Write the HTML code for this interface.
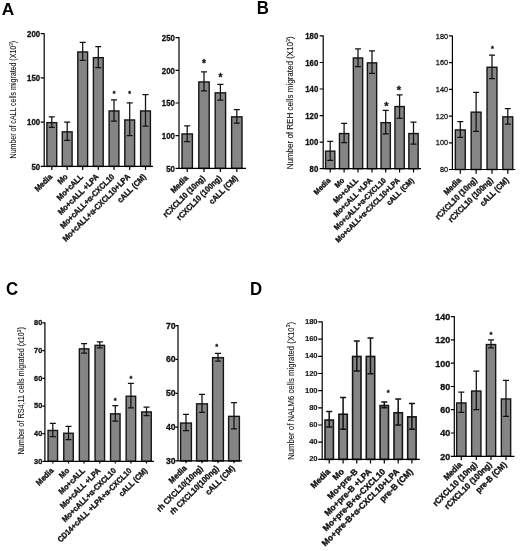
<!DOCTYPE html>
<html lang="en"><head><meta charset="utf-8"><title>Figure</title>
<style>html,body{margin:0;padding:0;background:#fff}svg{display:block;will-change:transform}text{font-family:"Liberation Sans", sans-serif;fill:#111}.b,.l,.s{font-weight:700;stroke:#111;stroke-width:.3px}.m{stroke:#111;stroke-width:.25px}.sb{font-weight:700;stroke:#111;stroke-width:.1px}.l{text-anchor:end;stroke-width:.36px}.y{text-anchor:middle;fill:#111;stroke:#111;stroke-width:.08px}.p{font-weight:700;fill:#000}.s{text-anchor:middle}.bar{fill:#858585;stroke:#151515}.ax{stroke:#000;stroke-width:1.2;fill:none}.er{stroke:#111;fill:none}</style></head><body>
<svg width="520" height="551" viewBox="0 0 520 551">
<rect width="520" height="551" fill="#fff"/>
<text class="p" font-size="16.6" transform="translate(1.7 15) scale(1.04 1)">A</text>
<text class="p" font-size="17.5" transform="translate(256.8 13.8) scale(0.96 1)">B</text>
<text class="p" font-size="17.5" transform="translate(6 294.8) scale(0.96 1)">C</text>
<text class="p" font-size="17.5" transform="translate(250.1 294.7) scale(0.96 1)">D</text>
<g id="A1">
<rect class="bar" stroke-width="1.4" x="46.9" y="122.65" width="9.8" height="43.75"/>
<rect class="bar" stroke-width="1.4" x="62.3" y="131.85" width="9.8" height="34.55"/>
<rect class="bar" stroke-width="1.4" x="77.8" y="51.95" width="9.8" height="114.45"/>
<rect class="bar" stroke-width="1.4" x="93.4" y="57.65" width="9.8" height="108.75"/>
<rect class="bar" stroke-width="1.4" x="109.1" y="110.95" width="9.8" height="55.45"/>
<rect class="bar" stroke-width="1.4" x="124.8" y="119.95" width="9.8" height="46.45"/>
<rect class="bar" stroke-width="1.4" x="140.6" y="110.95" width="9.8" height="55.45"/>
<path class="er" stroke-width="1.25" d="M51.8 116.9V127.3M48.8 116.9H54.8M48.8 127.3H54.8M67.2 122.1V140.3M64.2 122.1H70.2M64.2 140.3H70.2M82.7 42.4V60.4M79.7 42.4H85.7M79.7 60.4H85.7M98.3 46.5V67.7M95.3 46.5H101.3M95.3 67.7H101.3M114 99.8V121M111 99.8H117M111 121H117M129.7 102.8V135.7M126.7 102.8H132.7M126.7 135.7H132.7M145.5 94.6V126.2M142.5 94.6H148.5M142.5 126.2H148.5"/>
<path class="ax" d="M44.2 33.2V166.4H153M40.7 33.7H44.2M40.7 77.9H44.2M40.7 122.1H44.2M40.7 166.4H44.2M51.8 166.4V170.1M67.2 166.4V170.1M82.7 166.4V170.1M98.3 166.4V170.1M114 166.4V170.1M129.7 166.4V170.1M145.5 166.4V170.1"/>
<text class="t b" font-size="8.4" text-anchor="end" transform="translate(40.1 37) scale(0.93 1)">200</text>
<text class="t b" font-size="8.4" text-anchor="end" transform="translate(40.1 81.2) scale(0.93 1)">150</text>
<text class="t b" font-size="8.4" text-anchor="end" transform="translate(40.1 125.4) scale(0.93 1)">100</text>
<text class="t b" font-size="8.4" text-anchor="end" transform="translate(40.1 169.7) scale(0.93 1)">50</text>
<text class="s" font-size="7" x="114" y="96.27">*</text>
<text class="s" font-size="7" x="129.7" y="96.27">*</text>
<text class="l" font-size="8.2" transform="translate(52.8 177.3) rotate(-45) scale(0.9 1)">Media</text>
<text class="l" font-size="8.2" transform="translate(68.2 177.3) rotate(-45) scale(0.9 1)">Mo</text>
<text class="l" font-size="8.2" transform="translate(83.7 177.3) rotate(-45) scale(0.9 1)">Mo+cALL</text>
<text class="l" font-size="8.2" transform="translate(99.3 177.3) rotate(-45) scale(0.9 1)">Mo+cALL +LPA</text>
<text class="l" font-size="8.2" transform="translate(115 177.3) rotate(-45) scale(0.9 1)">Mo+cALL+α-CXCL10</text>
<text class="l" font-size="8.2" transform="translate(130.7 177.3) rotate(-45) scale(0.9 1)">Mo+cALL+α-CXCL10+LPA</text>
<text class="l" font-size="8.2" transform="translate(146.5 177.3) rotate(-45) scale(0.9 1)">cALL (CM)</text>
<text class="y" font-size="8.3" transform="translate(15.7 99.65) rotate(-90) scale(0.8467 1)">Number of cALL cells migrated (X10<tspan font-size="5.4" dy="-3.1">3</tspan><tspan dy="3.1">)</tspan></text>
</g>
<g id="A2">
<rect class="bar" stroke-width="1.4" x="182" y="133.95" width="10.4" height="34.45"/>
<rect class="bar" stroke-width="1.4" x="198.8" y="81.95" width="10.4" height="86.45"/>
<rect class="bar" stroke-width="1.4" x="215.2" y="92.85" width="10.4" height="75.55"/>
<rect class="bar" stroke-width="1.4" x="231.6" y="116.85" width="10.4" height="51.55"/>
<path class="er" stroke-width="1.25" d="M187.2 125.8V141.6M184.2 125.8H190.2M184.2 141.6H190.2M204 71.9V90.9M201 71.9H207M201 90.9H207M220.4 84.4V100.2M217.4 84.4H223.4M217.4 100.2H223.4M236.8 109.5V123.1M233.8 109.5H239.8M233.8 123.1H239.8"/>
<path class="ax" d="M179 37.1V168.4H246M175.5 37.6H179M175.5 70.3H179M175.5 103H179M175.5 135.7H179M175.5 168.4H179M187.2 168.4V172.1M204 168.4V172.1M220.4 168.4V172.1M236.8 168.4V172.1"/>
<text class="t b" font-size="8.4" text-anchor="end" transform="translate(174.9 40.9) scale(0.93 1)">250</text>
<text class="t b" font-size="8.4" text-anchor="end" transform="translate(174.9 73.6) scale(0.93 1)">200</text>
<text class="t b" font-size="8.4" text-anchor="end" transform="translate(174.9 106.3) scale(0.93 1)">150</text>
<text class="t b" font-size="8.4" text-anchor="end" transform="translate(174.9 139) scale(0.93 1)">100</text>
<text class="t b" font-size="8.4" text-anchor="end" transform="translate(174.9 171.7) scale(0.93 1)">50</text>
<text class="s" font-size="10" x="204" y="67.3">*</text>
<text class="s" font-size="10" x="220.4" y="80.8">*</text>
<text class="l" font-size="8.2" transform="translate(188.7 178.7) rotate(-45) scale(0.9 1)">Media</text>
<text class="l" font-size="8.2" transform="translate(205.5 178.7) rotate(-45) scale(0.9 1)">rCXCL10 (10ng)</text>
<text class="l" font-size="8.2" transform="translate(221.9 178.7) rotate(-45) scale(0.9 1)">rCXCL10 (100ng)</text>
<text class="l" font-size="8.2" transform="translate(238.3 178.7) rotate(-45) scale(0.9 1)">cALL (CM)</text>
</g>
<g id="B1">
<rect class="bar" stroke-width="1.4" x="325.55" y="151.15" width="9.3" height="17.55"/>
<rect class="bar" stroke-width="1.4" x="339.45" y="133.55" width="9.3" height="35.15"/>
<rect class="bar" stroke-width="1.4" x="353.35" y="57.95" width="9.3" height="110.75"/>
<rect class="bar" stroke-width="1.4" x="367.35" y="62.85" width="9.3" height="105.85"/>
<rect class="bar" stroke-width="1.4" x="381.05" y="122.65" width="9.3" height="46.05"/>
<rect class="bar" stroke-width="1.4" x="394.95" y="106.55" width="9.3" height="62.15"/>
<rect class="bar" stroke-width="1.4" x="408.85" y="133.55" width="9.3" height="35.15"/>
<path class="er" stroke-width="1.25" d="M330.2 141.4V160.4M327.2 141.4H333.2M327.2 160.4H333.2M344.1 123.4V142.5M341.1 123.4H347.1M341.1 142.5H347.1M358 48.9V66.6M355 48.9H361M355 66.6H361M372 50.8V73.4M369 50.8H375M369 73.4H375M385.7 110.4V133.8M382.7 110.4H388.7M382.7 133.8H388.7M399.6 94.9V118.3M396.6 94.9H402.6M396.6 118.3H402.6M413.5 122.1V144.1M410.5 122.1H416.5M410.5 144.1H416.5"/>
<path class="ax" d="M323.2 35.4V168.7H421M319.7 35.9H323.2M319.7 62.5H323.2M319.7 89H323.2M319.7 115.6H323.2M319.7 142.1H323.2M319.7 168.7H323.2M330.2 168.7V172.4M344.1 168.7V172.4M358 168.7V172.4M372 168.7V172.4M385.7 168.7V172.4M399.6 168.7V172.4M413.5 168.7V172.4"/>
<text class="t b" font-size="8.4" text-anchor="end" transform="translate(318.3 39.2) scale(0.93 1)">180</text>
<text class="t b" font-size="8.4" text-anchor="end" transform="translate(318.3 65.8) scale(0.93 1)">160</text>
<text class="t b" font-size="8.4" text-anchor="end" transform="translate(318.3 92.3) scale(0.93 1)">140</text>
<text class="t b" font-size="8.4" text-anchor="end" transform="translate(318.3 118.9) scale(0.93 1)">120</text>
<text class="t b" font-size="8.4" text-anchor="end" transform="translate(318.3 145.4) scale(0.93 1)">100</text>
<text class="t b" font-size="8.4" text-anchor="end" transform="translate(318.3 172) scale(0.93 1)">80</text>
<text class="s" font-size="11" x="386.3" y="109.71">*</text>
<text class="s" font-size="11" x="398.8" y="94.31">*</text>
<text class="l" font-size="7.6" transform="translate(331 181) rotate(-45) scale(0.93 1)">Media</text>
<text class="l" font-size="7.6" transform="translate(344.9 181) rotate(-45) scale(0.93 1)">Mo</text>
<text class="l" font-size="7.6" transform="translate(358.8 181) rotate(-45) scale(0.93 1)">Mo+cALL</text>
<text class="l" font-size="7.6" transform="translate(372.8 181) rotate(-45) scale(0.93 1)">Mo+cALL +LPA</text>
<text class="l" font-size="7.6" transform="translate(386.5 181) rotate(-45) scale(0.93 1)">Mo+cALL+α-CXCL10</text>
<text class="l" font-size="7.6" transform="translate(400.4 181) rotate(-45) scale(0.93 1)">Mo+cALL+α-CXCL10+LPA</text>
<text class="l" font-size="7.6" transform="translate(414.3 181) rotate(-45) scale(0.93 1)">cALL (CM)</text>
<text class="y" font-size="8.3" transform="translate(293 102.85) rotate(-90) scale(0.9666 1)">Number of REH cells migrated (X10<tspan font-size="5.4" dy="-3.1">3</tspan><tspan dy="3.1">)</tspan></text>
</g>
<g id="B2">
<rect class="bar" stroke-width="1.4" x="455.35" y="129.95" width="9.9" height="39.55"/>
<rect class="bar" stroke-width="1.4" x="471.15" y="112.15" width="9.9" height="57.35"/>
<rect class="bar" stroke-width="1.4" x="487.05" y="67.25" width="9.9" height="102.25"/>
<rect class="bar" stroke-width="1.4" x="502.85" y="116.85" width="9.9" height="52.65"/>
<path class="er" stroke-width="1.25" d="M460.3 121.7V137.3M457.3 121.7H463.3M457.3 137.3H463.3M476.1 92.3V131.3M473.1 92.3H479.1M473.1 131.3H479.1M492 55V78.7M489 55H495M489 78.7H495M507.8 108.7V124.2M504.8 108.7H510.8M504.8 124.2H510.8"/>
<path class="ax" d="M452.4 35.4V169.5H515.4M448.9 35.9H452.4M448.9 62.6H452.4M448.9 89.3H452.4M448.9 116.1H452.4M448.9 142.8H452.4M448.9 169.5H452.4M460.3 169.5V173.8M476.1 169.5V173.8M492 169.5V173.8M507.8 169.5V173.8"/>
<text class="t m" font-size="7.6" text-anchor="end" transform="translate(448 38.5) scale(0.96 1)">180</text>
<text class="t m" font-size="7.6" text-anchor="end" transform="translate(448 65.2) scale(0.96 1)">160</text>
<text class="t m" font-size="7.6" text-anchor="end" transform="translate(448 91.9) scale(0.96 1)">140</text>
<text class="t m" font-size="7.6" text-anchor="end" transform="translate(448 118.7) scale(0.96 1)">120</text>
<text class="t m" font-size="7.6" text-anchor="end" transform="translate(448 145.4) scale(0.96 1)">100</text>
<text class="t m" font-size="7.6" text-anchor="end" transform="translate(448 172.1) scale(0.96 1)">80</text>
<text class="s" font-size="7.5" x="492.4" y="50.98">*</text>
<text class="l" font-size="8.3" transform="translate(461.7 180.8) rotate(-45) scale(0.89 1)">Media</text>
<text class="l" font-size="8.3" transform="translate(477.5 180.8) rotate(-45) scale(0.89 1)">rCXCL10 (10ng)</text>
<text class="l" font-size="8.3" transform="translate(493.4 180.8) rotate(-45) scale(0.89 1)">rCXCL10 (100ng)</text>
<text class="l" font-size="8.3" transform="translate(509.2 180.8) rotate(-45) scale(0.89 1)">cALL (CM)</text>
</g>
<g id="C1">
<rect class="bar" stroke-width="1.4" x="48.05" y="430.45" width="9.5" height="30.85"/>
<rect class="bar" stroke-width="1.4" x="63.75" y="433.25" width="9.5" height="28.05"/>
<rect class="bar" stroke-width="1.4" x="79.35" y="348.85" width="9.5" height="112.45"/>
<rect class="bar" stroke-width="1.4" x="95.05" y="345.35" width="9.5" height="115.95"/>
<rect class="bar" stroke-width="1.4" x="110.55" y="413.85" width="9.5" height="47.45"/>
<rect class="bar" stroke-width="1.4" x="126.15" y="396.25" width="9.5" height="65.05"/>
<rect class="bar" stroke-width="1.4" x="141.75" y="411.95" width="9.5" height="49.35"/>
<path class="er" stroke-width="1.25" d="M52.8 423.4V436.7M49.8 423.4H55.8M49.8 436.7H55.8M68.5 426.4V439.5M65.5 426.4H71.5M65.5 439.5H71.5M84.1 343.7V353M81.1 343.7H87.1M81.1 353H87.1M99.8 341.8V347.8M96.8 341.8H102.8M96.8 347.8H102.8M115.3 405.7V421M112.3 405.7H118.3M112.3 421H118.3M130.9 383.4V407.9M127.9 383.4H133.9M127.9 407.9H133.9M146.5 407.1V415.5M143.5 407.1H149.5M143.5 415.5H149.5"/>
<path class="ax" d="M44.9 322.3V461.3H154M42.4 322.8H44.9M42.4 350.6H44.9M42.4 378.4H44.9M42.4 406.1H44.9M42.4 433.7H44.9M42.4 461.3H44.9M52.8 461.3V463.6M68.5 461.3V463.6M84.1 461.3V463.6M99.8 461.3V463.6M115.3 461.3V463.6M130.9 461.3V463.6M146.5 461.3V463.6"/>
<text class="t b" font-size="7.3" text-anchor="end" transform="translate(42.2 325) scale(1 1)">80</text>
<text class="t b" font-size="7.3" text-anchor="end" transform="translate(42.2 352.8) scale(1 1)">70</text>
<text class="t b" font-size="7.3" text-anchor="end" transform="translate(42.2 380.6) scale(1 1)">60</text>
<text class="t b" font-size="7.3" text-anchor="end" transform="translate(42.2 408.3) scale(1 1)">50</text>
<text class="t b" font-size="7.3" text-anchor="end" transform="translate(42.2 435.9) scale(1 1)">40</text>
<text class="t b" font-size="7.3" text-anchor="end" transform="translate(42.2 463.5) scale(1 1)">30</text>
<text class="s" font-size="7.5" x="115.3" y="403.18">*</text>
<text class="s" font-size="7.5" x="130.9" y="381.18">*</text>
<text class="l" font-size="8" transform="translate(54.1 471.2) rotate(-45) scale(0.92 1)">Media</text>
<text class="l" font-size="8" transform="translate(69.8 471.2) rotate(-45) scale(0.92 1)">Mo</text>
<text class="l" font-size="8" transform="translate(85.4 471.2) rotate(-45) scale(0.92 1)">Mo+cALL</text>
<text class="l" font-size="8" transform="translate(101.1 471.2) rotate(-45) scale(0.92 1)">Mo+cALL +LPA</text>
<text class="l" font-size="8" transform="translate(116.6 471.2) rotate(-45) scale(0.92 1)">Mo+cALL+α-CXCL10</text>
<text class="l" font-size="8" transform="translate(132.2 471.2) rotate(-45) scale(0.92 1)">CD14+cALL +LPA+α-CXCL10</text>
<text class="l" font-size="8" transform="translate(147.8 471.2) rotate(-45) scale(0.92 1)">cALL (CM)</text>
<text class="y" font-size="8.3" transform="translate(24 390.8) rotate(-90) scale(0.8735 1)">Number of RS4;11 cells migrated (x10<tspan font-size="5.4" dy="-3.1">3</tspan><tspan dy="3.1">)</tspan></text>
</g>
<g id="C2">
<rect class="bar" stroke-width="1.4" x="180.6" y="423.05" width="10.8" height="37.85"/>
<rect class="bar" stroke-width="1.4" x="196.6" y="403.85" width="10.8" height="57.05"/>
<rect class="bar" stroke-width="1.4" x="212.6" y="357.65" width="10.8" height="103.25"/>
<rect class="bar" stroke-width="1.4" x="228.6" y="416.35" width="10.8" height="44.55"/>
<path class="er" stroke-width="1.25" d="M186 414.4V430.6M183 414.4H189M183 430.6H189M202 394.3V412.3M199 394.3H205M199 412.3H205M218 353.3V361.2M215 353.3H221M215 361.2H221M234 402.7V428.9M231 402.7H237M231 428.9H237"/>
<path class="ax" d="M178 325.1V460.9H242M175.5 325.6H178M175.5 359.4H178M175.5 393.3H178M175.5 427.1H178M175.5 460.9H178M186 460.9V463.2M202 460.9V463.2M218 460.9V463.2M234 460.9V463.2"/>
<text class="t b" font-size="8.4" text-anchor="end" transform="translate(175.6 328.5) scale(1.03 1)">70</text>
<text class="t b" font-size="8.4" text-anchor="end" transform="translate(175.6 362.3) scale(1.03 1)">60</text>
<text class="t b" font-size="8.4" text-anchor="end" transform="translate(175.6 396.2) scale(1.03 1)">50</text>
<text class="t b" font-size="8.4" text-anchor="end" transform="translate(175.6 430) scale(1.03 1)">40</text>
<text class="t b" font-size="8.4" text-anchor="end" transform="translate(175.6 463.8) scale(1.03 1)">30</text>
<text class="s" font-size="7.5" x="216.8" y="348.88">*</text>
<text class="l" font-size="8.3" transform="translate(187.2 468.9) rotate(-45) scale(0.91 1)">Media</text>
<text class="l" font-size="8.3" transform="translate(203.2 468.9) rotate(-45) scale(0.91 1)">rh CXCL10(10ng)</text>
<text class="l" font-size="8.3" transform="translate(219.2 468.9) rotate(-45) scale(0.91 1)">rh CXCL10(100ng)</text>
<text class="l" font-size="8.3" transform="translate(235.2 468.9) rotate(-45) scale(0.91 1)">cALL (CM)</text>
</g>
<g id="D1">
<rect class="bar" stroke-width="1.6" x="325" y="420.05" width="8.4" height="39.35"/>
<rect class="bar" stroke-width="1.6" x="338.9" y="414.25" width="8.4" height="45.15"/>
<rect class="bar" stroke-width="1.6" x="352.6" y="356.45" width="8.4" height="102.95"/>
<rect class="bar" stroke-width="1.6" x="366.3" y="356.45" width="8.4" height="102.95"/>
<rect class="bar" stroke-width="1.6" x="380.1" y="405.55" width="8.4" height="53.85"/>
<rect class="bar" stroke-width="1.6" x="394" y="412.75" width="8.4" height="46.65"/>
<rect class="bar" stroke-width="1.6" x="407.7" y="416.85" width="8.4" height="42.55"/>
<path class="er" stroke-width="1.5" d="M329.2 411.6V426.9M326.2 411.6H332.2M326.2 426.9H332.2M343.1 397.6V429.3M340.1 397.6H346.1M340.1 429.3H346.1M356.8 341V370.9M353.8 341H359.8M353.8 370.9H359.8M370.5 338.1V373.8M367.5 338.1H373.5M367.5 373.8H373.5M384.3 402V407.8M381.3 402H387.3M381.3 407.8H387.3M398.2 399.1V424.9M395.2 399.1H401.2M395.2 424.9H401.2M411.9 403.4V429.3M408.9 403.4H414.9M408.9 429.3H414.9"/>
<path class="ax" d="M322.2 321.4V459.4H419.8M318.2 321.9H322.2M318.2 339.1H322.2M318.2 356.3H322.2M318.2 373.5H322.2M318.2 390.6H322.2M318.2 407.8H322.2M318.2 425H322.2M318.2 442.2H322.2M318.2 459.4H322.2M329.2 459.4V463.4M343.1 459.4V463.4M356.8 459.4V463.4M370.5 459.4V463.4M384.3 459.4V463.4M398.2 459.4V463.4M411.9 459.4V463.4"/>
<text class="t sb" font-size="7.4" text-anchor="end" transform="translate(317.6 323.9) scale(1.03 1)">180</text>
<text class="t sb" font-size="7.4" text-anchor="end" transform="translate(317.6 341.1) scale(1.03 1)">160</text>
<text class="t sb" font-size="7.4" text-anchor="end" transform="translate(317.6 358.3) scale(1.03 1)">140</text>
<text class="t sb" font-size="7.4" text-anchor="end" transform="translate(317.6 375.5) scale(1.03 1)">120</text>
<text class="t sb" font-size="7.4" text-anchor="end" transform="translate(317.6 392.6) scale(1.03 1)">100</text>
<text class="t sb" font-size="7.4" text-anchor="end" transform="translate(317.6 409.8) scale(1.03 1)">80</text>
<text class="t sb" font-size="7.4" text-anchor="end" transform="translate(317.6 427) scale(1.03 1)">60</text>
<text class="t sb" font-size="7.4" text-anchor="end" transform="translate(317.6 444.2) scale(1.03 1)">40</text>
<text class="t sb" font-size="7.4" text-anchor="end" transform="translate(317.6 461.4) scale(1.03 1)">20</text>
<text class="s" font-size="7.5" x="388.3" y="394.88">*</text>
<text class="l" font-size="8.6" transform="translate(330.8 472.2) rotate(-45) scale(0.98 1)">Media</text>
<text class="l" font-size="8.6" transform="translate(344.7 472.2) rotate(-45) scale(0.98 1)">Mo</text>
<text class="l" font-size="8.6" transform="translate(358.4 472.2) rotate(-45) scale(0.98 1)">Mo+pre-B</text>
<text class="l" font-size="8.6" transform="translate(372.1 472.2) rotate(-45) scale(0.98 1)">Mo+pre-B +LPA</text>
<text class="l" font-size="8.6" transform="translate(385.9 472.2) rotate(-45) scale(0.98 1)">Mo+pre-B+α-CXCL10</text>
<text class="l" font-size="8.6" transform="translate(399.8 472.2) rotate(-45) scale(0.98 1)">Mo+pre-B+α-CXCL10+LPA</text>
<text class="l" font-size="8.6" transform="translate(413.5 472.2) rotate(-45) scale(0.98 1)">pre-B (CM)</text>
<text class="y" font-size="8.3" transform="translate(293.5 390.9) rotate(-90) scale(0.9347 1)">Number of NALM6 cells migrated (X10<tspan font-size="5.4" dy="-3.1">3</tspan><tspan dy="3.1">)</tspan></text>
</g>
<g id="D2">
<rect class="bar" stroke-width="1.4" x="456.65" y="402.95" width="9.3" height="53.35"/>
<rect class="bar" stroke-width="1.4" x="471.65" y="391.05" width="9.3" height="65.25"/>
<rect class="bar" stroke-width="1.4" x="486.35" y="344.55" width="9.3" height="111.75"/>
<rect class="bar" stroke-width="1.4" x="501.35" y="398.95" width="9.3" height="57.35"/>
<path class="er" stroke-width="1.25" d="M461.3 392V412.3M458.3 392H464.3M458.3 412.3H464.3M476.3 371V409.7M473.3 371H479.3M473.3 409.7H479.3M491 339.9V347.8M488 339.9H494M488 347.8H494M506 380.3V416.4M503 380.3H509M503 416.4H509"/>
<path class="ax" d="M454.3 316.1V456.3H514.5M450.8 316.6H454.3M450.8 339.9H454.3M450.8 363.2H454.3M450.8 386.5H454.3M450.8 409.7H454.3M450.8 433H454.3M450.8 456.3H454.3M461.3 456.3V460M476.3 456.3V460M491 456.3V460M506 456.3V460"/>
<text class="t b" font-size="8.2" text-anchor="end" transform="translate(450.2 319.9) scale(1.1 1)">140</text>
<text class="t b" font-size="8.2" text-anchor="end" transform="translate(450.2 343.2) scale(1.1 1)">120</text>
<text class="t b" font-size="8.2" text-anchor="end" transform="translate(450.2 366.5) scale(1.1 1)">100</text>
<text class="t b" font-size="8.2" text-anchor="end" transform="translate(450.2 389.8) scale(1.1 1)">80</text>
<text class="t b" font-size="8.2" text-anchor="end" transform="translate(450.2 413) scale(1.1 1)">60</text>
<text class="t b" font-size="8.2" text-anchor="end" transform="translate(450.2 436.3) scale(1.1 1)">40</text>
<text class="t b" font-size="8.2" text-anchor="end" transform="translate(450.2 459.6) scale(1.1 1)">20</text>
<text class="s" font-size="7.5" x="491" y="336.97">*</text>
<text class="l" font-size="8.4" transform="translate(462.6 465.2) rotate(-45) scale(0.93 1)">Media</text>
<text class="l" font-size="8.4" transform="translate(477.6 465.2) rotate(-45) scale(0.93 1)">rCXCL10 (10ng)</text>
<text class="l" font-size="8.4" transform="translate(492.3 465.2) rotate(-45) scale(0.93 1)">rCXCL10 (100ng)</text>
<text class="l" font-size="8.4" transform="translate(507.3 465.2) rotate(-45) scale(0.93 1)">pre-B (CM)</text>
</g>
</svg></body></html>
